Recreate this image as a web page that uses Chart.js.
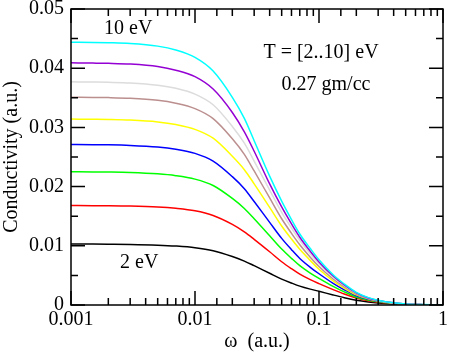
<!DOCTYPE html>
<html>
<head>
<meta charset="utf-8">
<script src="https://cdn.jsdelivr.net/npm/chart.js@4.4.1/dist/chart.umd.min.js"></script>
<style>
  html, body { margin: 0; padding: 0; background: #fff; }
  #wrap { width: 449px; height: 354px; }
</style>
</head>
<body>
<div id="wrap"><canvas id="chart" width="449" height="354"></canvas></div>
<script>
// 频率 (a.u.)
const omega = [0.001, 0.0015, 0.002, 0.003, 0.005, 0.007, 0.01, 0.014, 0.02, 0.025, 0.03, 0.04, 0.05,
               0.06, 0.07, 0.085, 0.1, 0.13, 0.16, 0.2, 0.25, 0.3, 0.4, 0.5, 0.7, 1];

// 各温度下的电导率 (2 eV ... 10 eV)
const sigma2  = [0.0103, 0.01029, 0.01027, 0.01023, 0.01011, 0.00996, 0.00968, 0.00917, 0.00819, 0.00742, 0.00664, 0.00536, 0.00438,
                 0.00371, 0.00319, 0.00268, 0.00232, 0.0017, 0.00124, 0.00082, 0.00052, 0.00034, 0.00016, 0.00008, 0.00003, 0.00001];
const sigma3  = [0.0168, 0.01678, 0.01677, 0.01672, 0.01656, 0.01633, 0.01591, 0.01512, 0.01361, 0.01235, 0.01109, 0.00899, 0.00731,
                 0.00613, 0.00521, 0.00428, 0.00361, 0.0026, 0.00185, 0.00118, 0.00072, 0.00047, 0.00024, 0.00012, 0.00004, 0.00002];
const sigma4  = [0.0225, 0.02248, 0.02246, 0.02239, 0.02216, 0.02185, 0.02126, 0.02018, 0.0180, 0.01631, 0.01458, 0.0117, 0.00945,
                 0.00788, 0.00664, 0.0054, 0.0045, 0.00315, 0.00221, 0.00135, 0.00083, 0.00054, 0.00027, 0.00014, 0.00005, 0.00002];
const sigma5  = [0.0271, 0.02707, 0.02705, 0.02696, 0.02669, 0.02631, 0.02561, 0.02431, 0.02168, 0.01965, 0.01748, 0.01396, 0.01125,
                 0.00935, 0.00786, 0.00637, 0.00528, 0.00366, 0.00257, 0.00157, 0.00095, 0.00062, 0.0003, 0.00015, 0.00005, 0.00002];
const sigma6  = [0.0314, 0.03137, 0.03134, 0.03124, 0.03093, 0.03049, 0.02967, 0.02817, 0.02512, 0.02286, 0.02047, 0.01649, 0.01335,
                 0.01115, 0.00942, 0.00754, 0.00603, 0.00408, 0.00283, 0.00173, 0.00104, 0.00066, 0.00031, 0.00016, 0.00006, 0.00002];
const sigma7  = [0.0351, 0.03506, 0.03503, 0.03492, 0.03457, 0.03408, 0.03317, 0.03148, 0.02808, 0.02545, 0.02264, 0.01808, 0.01457,
                 0.01211, 0.01018, 0.00807, 0.00649, 0.00439, 0.00305, 0.00186, 0.00109, 0.0007, 0.00032, 0.00016, 0.00006, 0.00002];
const sigma8  = [0.0377, 0.03766, 0.03762, 0.03751, 0.03713, 0.03661, 0.03563, 0.03382, 0.03016, 0.02733, 0.02432, 0.01942, 0.01565,
                 0.01301, 0.01093, 0.00867, 0.00697, 0.00471, 0.00328, 0.0020, 0.00117, 0.00075, 0.00034, 0.00017, 0.00006, 0.00002];
const sigma9  = [0.0409, 0.04086, 0.04082, 0.0407, 0.04029, 0.03967, 0.03857, 0.03648, 0.03252, 0.02924, 0.02597, 0.02045, 0.01656,
                 0.0137, 0.01145, 0.00908, 0.00728, 0.00491, 0.00339, 0.00205, 0.00119, 0.00078, 0.00037, 0.00016, 0.00006, 0.00002];
const sigma10 = [0.0444, 0.04436, 0.04431, 0.04418, 0.04373, 0.04307, 0.04182, 0.03952, 0.03508, 0.03152, 0.02775, 0.02176, 0.01754,
                 0.01443, 0.01199, 0.00955, 0.00764, 0.00511, 0.00355, 0.00213, 0.00124, 0.0008, 0.00036, 0.00018, 0.00007, 0.00002];

const seriesList = [sigma2, sigma3, sigma4, sigma5, sigma6, sigma7, sigma8, sigma9, sigma10];
const seriesColors = ['#000000', '#ff0000', '#00ff00', '#0000ff', '#ffff00', '#bc8f8f', '#dcdcdc', '#9400d3', '#00ffff'];
const seriesLabels = ['2 eV', '3 eV', '4 eV', '5 eV', '6 eV', '7 eV', '8 eV', '9 eV', '10 eV'];

const yTicks = [0, 0.01, 0.02, 0.03, 0.04, 0.05];
const xTickLabels = [0.001, 0.01, 0.1, 1];

const FONT = '"Liberation Serif", "Times New Roman", serif';
const FS = 20;

// Chart.js 先画的在下面: 数组倒序, 让 10 eV 在最上层
const datasets = seriesList.map((vals, i) => ({
    label: seriesLabels[i],
    data: omega.map((w, j) => ({ x: w, y: vals[j] })),
    borderColor: seriesColors[i],
    borderWidth: 1.5,
    pointRadius: 0,
    fill: false,
    cubicInterpolationMode: 'monotone'
})).reverse();

function isMajorX(v) {
    return xTickLabels.some(m => Math.abs(m - v) / m < 1e-6);
}

// 向内的刻度线 + 边框 + 文字标注
const frameTicks = {
    id: 'frameTicks',
    afterDatasetsDraw(chart) {
        const ctx = chart.ctx;
        const a = chart.chartArea;
        const xs = chart.scales.x;
        const ys = chart.scales.y;
        const major = 14, minor = 7;
        ctx.save();
        ctx.strokeStyle = '#000';
        ctx.lineWidth = 1.5;
        ctx.beginPath();
        // x 轴
        xs.ticks.forEach(t => {
            const px = xs.getPixelForValue(t.value);
            if (px < a.left - 0.5 || px > a.right + 0.5) return;
            const len = isMajorX(t.value) ? major : minor;
            ctx.moveTo(px, a.bottom); ctx.lineTo(px, a.bottom - len);
            ctx.moveTo(px, a.top); ctx.lineTo(px, a.top + len);
        });
        // y 轴
        for (let i = 0; i < yTicks.length; i++) {
            const py = ys.getPixelForValue(yTicks[i]);
            ctx.moveTo(a.left, py); ctx.lineTo(a.left + major, py);
            ctx.moveTo(a.right, py); ctx.lineTo(a.right - major, py);
            if (i < yTicks.length - 1) {
                const pm = ys.getPixelForValue((yTicks[i] + yTicks[i + 1]) / 2);
                ctx.moveTo(a.left, pm); ctx.lineTo(a.left + minor, pm);
                ctx.moveTo(a.right, pm); ctx.lineTo(a.right - minor, pm);
            }
        }
        ctx.stroke();
        ctx.strokeRect(a.left, a.top, a.right - a.left, a.bottom - a.top);

        ctx.fillStyle = '#000';
        ctx.font = FS + 'px ' + FONT;
        ctx.textBaseline = 'middle';
        ctx.textAlign = 'left';
        ctx.fillText('10 eV', 104, 29);
        ctx.fillText('2 eV', 120, 263);
        ctx.textAlign = 'center';
        ctx.fillText('T = [2..10] eV', 321, 53);
        ctx.fillText('0.27 gm/cc', 326, 85);
        ctx.restore();
    }
};

const ctx = document.getElementById('chart').getContext('2d');
new Chart(ctx, {
    type: 'line',
    data: { datasets: datasets },
    options: {
        responsive: false,
        animation: false,
        events: [],
        layout: { padding: { top: 9, right: 6, left: 0, bottom: 0 } },
        plugins: {
            legend: { display: false },
            tooltip: { enabled: false }
        },
        scales: {
            x: {
                type: 'logarithmic',
                min: 0.001,
                max: 1,
                grid: { display: false, drawTicks: false },
                border: { display: false },
                afterFit(scale) {
                    scale.height = 49;
                    scale.paddingLeft = 0;
                    scale.paddingRight = 0;
                },
                ticks: {
                    autoSkip: false,
                    maxRotation: 0,
                    padding: 3,
                    color: '#000',
                    font: { family: FONT, size: FS },
                    callback(value) {
                        return isMajorX(value) ? String(value) : '';
                    }
                },
                title: {
                    display: true,
                    text: 'ω  (a.u.)',
                    color: '#000',
                    font: { family: FONT, size: FS },
                    padding: { top: 0, bottom: 0 }
                }
            },
            y: {
                type: 'linear',
                min: 0,
                max: 0.05,
                grid: { display: false, drawTicks: false },
                border: { display: false },
                afterFit(scale) {
                    scale.width = 71;
                    scale.paddingTop = 0;
                    scale.paddingBottom = 0;
                },
                afterBuildTicks(scale) { scale.ticks = yTicks.map(v => ({ value: v })); },
                ticks: {
                    padding: 7,
                    color: '#000',
                    font: { family: FONT, size: FS },
                    callback(value) { return String(Math.round(value * 1000) / 1000); }
                },
                title: {
                    display: true,
                    text: 'Conductivity (a.u.)',
                    color: '#000',
                    font: { family: FONT, size: FS },
                    padding: { top: 0, bottom: 0 }
                }
            }
        }
    },
    plugins: [frameTicks]
});
</script>
</body>
</html>
